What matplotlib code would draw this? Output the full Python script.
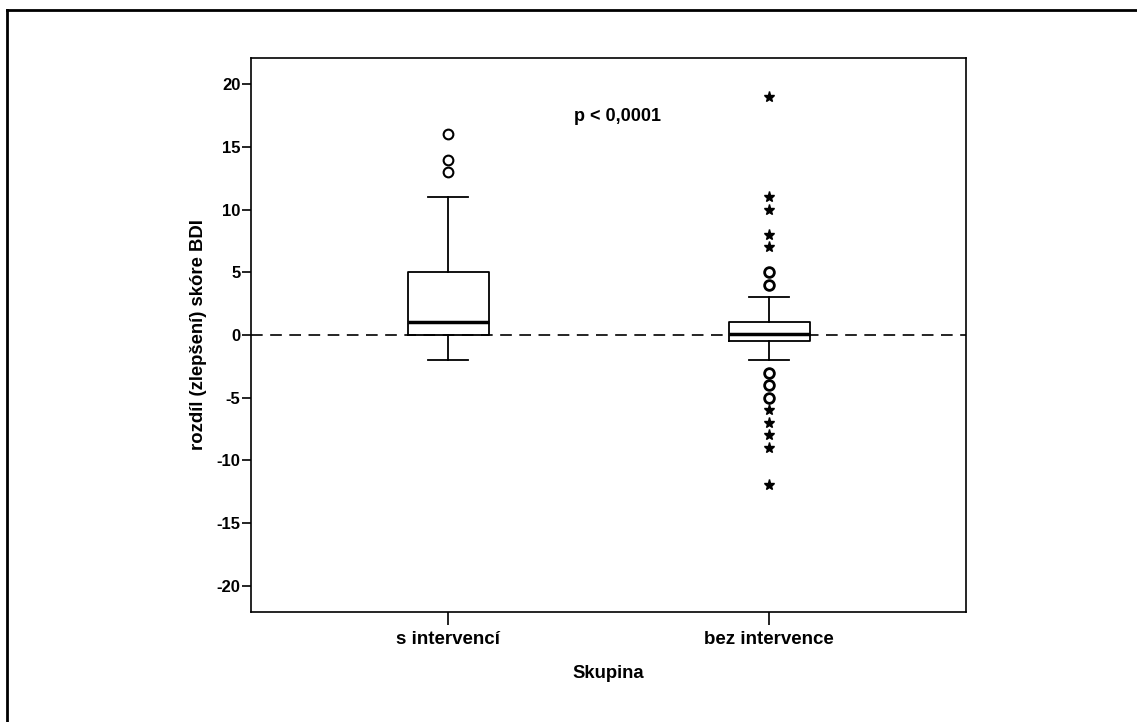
import matplotlib.pyplot as plt
from matplotlib.lines import Line2D

plt.rcParams['font.family'] = ['Liberation Sans', 'DejaVu Sans']
plt.rcParams['font.weight'] = 'bold'
plt.rcParams['axes.unicode_minus'] = False

skupiny = ['s intervencí', 'bez intervence']
pozice = [1, 2]

# box statistiky (dolní vous, Q1, medián, Q3, horní vous)
whislo = [-2, -2]
q1 = [0, -0.5]
med = [1, 0.1]
q3 = [5, 1]
whishi = [11, 3]

# odlehlé hodnoty (kroužky) a extrémy (hvězdičky)
kruhy_s = [16, 14, 13]
kruhy_bez = [5, 4, -3, -4, -5]
hvezdy_bez = [19, 11, 10, 8, 7, -6, -7, -8, -9, -12]

fig = plt.figure(figsize=(11.37, 7.22), dpi=100)
ax = fig.add_axes([251 / 1137, 1 - 612 / 722, 715 / 1137, 554 / 722])

stats = []
for i in range(2):
    stats.append({'whislo': whislo[i], 'q1': q1[i], 'med': med[i],
                  'q3': q3[i], 'whishi': whishi[i], 'fliers': []})

ax.bxp(stats, positions=pozice, widths=0.252, capwidths=0.126,
       showfliers=False,
       boxprops={'color': 'black', 'linewidth': 1.3},
       whiskerprops={'color': 'black', 'linewidth': 1.3},
       capprops={'color': 'black', 'linewidth': 1.3},
       medianprops={'color': 'black', 'linewidth': 2.5})

ax.axhline(0, color='black', linewidth=1.2, dashes=(7, 4.5), zorder=0)

ax.plot([pozice[0]] * len(kruhy_s), kruhy_s, 'o', mfc='white', mec='black',
        ms=7, mew=1.5, linestyle='none')
ax.plot([pozice[1]] * len(kruhy_bez), kruhy_bez, 'o', mfc='white', mec='black',
        ms=7, mew=2, linestyle='none')
ax.plot([pozice[1]] * len(hvezdy_bez), hvezdy_bez, '*', color='black',
        ms=8, linestyle='none')

ax.text(1.526, 17.4, 'p < 0,0001', ha='center', va='center',
        fontsize=13, fontweight='bold')

ax.set_xlim(0.386, 2.613)
ax.set_ylim(-22.1, 22.1)
ax.set_yticks(range(-20, 21, 5))
ax.set_xticks(pozice)
ax.set_xticklabels(skupiny)
ax.tick_params(axis='y', length=6.5, width=1.2, labelsize=12, pad=1)
ax.tick_params(axis='x', length=9, width=1.2, labelsize=13.5, pad=5)
for s in ax.spines.values():
    s.set_linewidth(1.2)

ax.set_xlabel('Skupina', fontsize=13.3, fontweight='bold', labelpad=12)
ax.set_ylabel('rozdíl (zlepšení) skóre BDI', fontsize=13.3,
              fontweight='bold', labelpad=7)

# rámeček kolem obrázku
fig.add_artist(Line2D([7 / 1137, 7 / 1137], [0, 1 - 10 / 722],
                      transform=fig.transFigure, color='black', lw=2))
fig.add_artist(Line2D([7 / 1137, 1], [1 - 10 / 722, 1 - 10 / 722],
                      transform=fig.transFigure, color='black', lw=2))

fig.savefig('out.png', dpi=100)
